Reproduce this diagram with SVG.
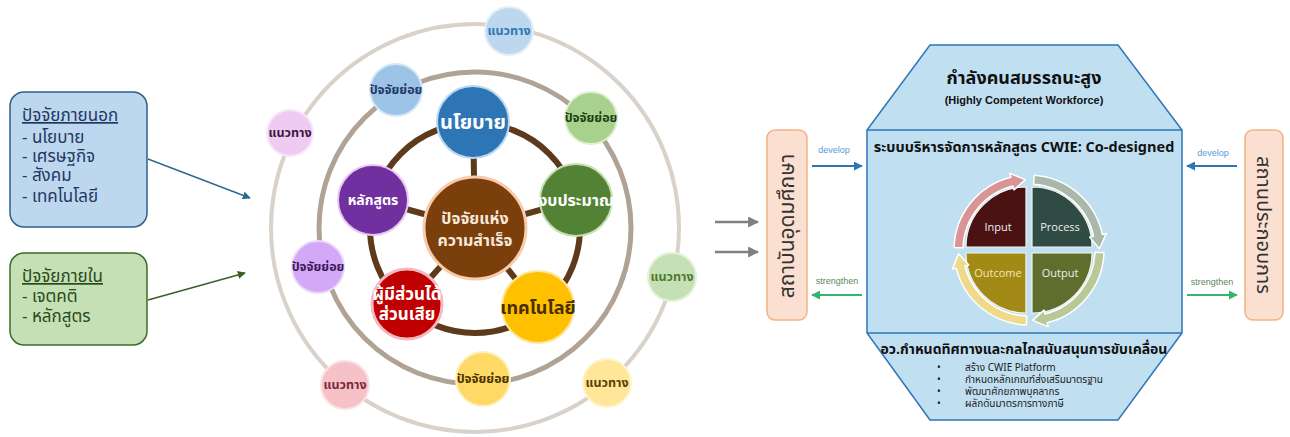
<svg xmlns="http://www.w3.org/2000/svg" width="1290" height="437" viewBox="0 0 1290 437">
<defs>
<style>
text{font-family:"Noto Sans Thai","Noto Sans","Leelawadee UI",Tahoma,sans-serif}
.en{font-family:"Liberation Sans",Arial,sans-serif}
.b{font-weight:bold}
.sm{font-size:12.5px;font-weight:bold;text-anchor:middle}
.mid{text-anchor:middle}
.box{font-size:17px}
.lbl{font-family:"Liberation Sans",Arial,sans-serif;font-size:9px;text-anchor:middle}
.q{font-family:"Open Sans","Liberation Sans",sans-serif;font-size:11px;text-anchor:middle}
.bl{font-size:10px;fill:#222222}
.sp{stroke:#5c3a1b;stroke-width:6}
</style>
<marker id="mBlue" viewBox="0 0 10 10" refX="9" refY="5" markerWidth="8" markerHeight="8" orient="auto" markerUnits="userSpaceOnUse"><path d="M0,0 L10,5 L0,10 z" fill="#2e6a8e"/></marker>
<marker id="mGreenD" viewBox="0 0 10 10" refX="9" refY="5" markerWidth="8" markerHeight="8" orient="auto" markerUnits="userSpaceOnUse"><path d="M0,0 L10,5 L0,10 z" fill="#3b5e26"/></marker>
<marker id="mGrey" viewBox="0 0 10 10" refX="9" refY="5" markerWidth="11" markerHeight="11" orient="auto" markerUnits="userSpaceOnUse"><path d="M0,0 L10,5 L0,10 z" fill="#808080"/></marker>
<marker id="mDev" viewBox="0 0 10 10" refX="9" refY="5" markerWidth="9" markerHeight="9" orient="auto" markerUnits="userSpaceOnUse"><path d="M0,0 L10,5 L0,10 z" fill="#2e75b6"/></marker>
<marker id="mStr" viewBox="0 0 10 10" refX="9" refY="5" markerWidth="9" markerHeight="9" orient="auto" markerUnits="userSpaceOnUse"><path d="M0,0 L10,5 L0,10 z" fill="#33b56a"/></marker>
</defs>
<rect width="1290" height="437" fill="#ffffff"/>

<!-- Left boxes -->
<g id="external">
<rect x="10" y="92" width="137" height="135" rx="14" fill="#bdd7ee" stroke="#2f5f8a" stroke-width="1.5"/>
<text x="22" y="121" class="box" fill="#1f3864" text-decoration="underline">ปัจจัยภายนอก</text>
<text x="22" y="143" class="box" fill="#1f3864">- นโยบาย</text>
<text x="22" y="162" class="box" fill="#1f3864">- เศรษฐกิจ</text>
<text x="22" y="181" class="box" fill="#1f3864">- สังคม</text>
<text x="22" y="202" class="box" fill="#1f3864">- เทคโนโลยี</text>
</g>
<g id="internal">
<rect x="10" y="253" width="137" height="92" rx="14" fill="#c5e0b4" stroke="#3d6b2a" stroke-width="1.5"/>
<text x="22" y="282" class="box" fill="#2a4a1a" text-decoration="underline">ปัจจัยภายใน</text>
<text x="22" y="302" class="box" fill="#2a4a1a">- เจตคติ</text>
<text x="22" y="322" class="box" fill="#2a4a1a">- หลักสูตร</text>
</g>

<!-- Circle diagram -->
<g id="rings" fill="none">
<circle cx="475" cy="228" r="204" stroke="#d8d2ca" stroke-width="4"/>
<circle cx="475" cy="228" r="156" stroke="#b0a396" stroke-width="5"/>
<circle cx="475" cy="228" r="105" stroke="#5c3a1b" stroke-width="6"/>
</g>
<g id="spokes">
<line class="sp" x1="475" y1="228" x2="473" y2="122"/>
<line class="sp" x1="475" y1="228" x2="576" y2="200"/>
<line class="sp" x1="475" y1="228" x2="538" y2="307"/>
<line class="sp" x1="475" y1="228" x2="407" y2="304"/>
<line class="sp" x1="475" y1="228" x2="373" y2="200"/>
</g>

<g id="center">
<circle cx="475" cy="228" r="51" fill="#7b3f0c" stroke="#f8cbad" stroke-width="3"/>
<text x="475" y="224" class="mid b" font-size="16" fill="#f7e9dc">ปัจจัยแห่ง</text>
<text x="475" y="246" class="mid b" font-size="16" fill="#f7e9dc">ความสำเร็จ</text>
</g>
<g id="policy">
<circle cx="473" cy="122" r="36" fill="#2e75b6" stroke="#bdd7ee" stroke-width="2"/>
<text x="473" y="129" class="mid b" font-size="20" fill="#ffffff">นโยบาย</text>
</g>
<g id="budget">
<circle cx="576" cy="200" r="36" fill="#548235" stroke="#c5e0b4" stroke-width="2"/>
<text x="576" y="206" class="mid b" font-size="16" fill="#ffffff">งบประมาณ</text>
</g>
<g id="technology">
<circle cx="538" cy="307" r="36" fill="#ffc000" stroke="#ffe699" stroke-width="2"/>
<text x="538" y="314" class="mid b" font-size="18" fill="#4a2e00">เทคโนโลยี</text>
</g>
<g id="stakeholder">
<circle cx="407" cy="304" r="35" fill="#c00000" stroke="#f4b8c0" stroke-width="3"/>
<text x="407" y="300" class="mid b" font-size="17" fill="#ffffff">ผู้มีส่วนได้</text>
<text x="407" y="320" class="mid b" font-size="17" fill="#ffffff">ส่วนเสีย</text>
</g>
<g id="curriculum">
<circle cx="373" cy="200" r="35" fill="#7030a0" stroke="#e8c8f0" stroke-width="2"/>
<text x="373" y="205" class="mid b" font-size="14" fill="#ffffff">หลักสูตร</text>
</g>

<g id="sub1"><circle cx="396" cy="90" r="26" fill="#9dc3e6" stroke="#d6e8f6" stroke-width="2"/><text x="396" y="94" class="sm" fill="#1f3864">ปัจจัยย่อย</text></g>
<g id="sub2"><circle cx="591" cy="118" r="26" fill="#a9d18e" stroke="#dff0d0" stroke-width="2"/><text x="591" y="122" class="sm" fill="#1e3d14">ปัจจัยย่อย</text></g>
<g id="sub3"><circle cx="318" cy="267" r="26" fill="#d2a8f7" stroke="#ecd8fb" stroke-width="2"/><text x="318" y="271" class="sm" fill="#3c1a5a">ปัจจัยย่อย</text></g>
<g id="sub4"><circle cx="483" cy="379" r="27" fill="#ffd966" stroke="#fff0c0" stroke-width="2"/><text x="483" y="383" class="sm" fill="#4a3300">ปัจจัยย่อย</text></g>

<g id="way1"><circle cx="509" cy="31" r="24" fill="#bdd7ee" stroke="#e2eef8" stroke-width="2"/><text x="509" y="35" class="sm" fill="#2e75b6">แนวทาง</text></g>
<g id="way2"><circle cx="290" cy="133" r="23" fill="#efcbf3" stroke="#f8e6fa" stroke-width="2"/><text x="290" y="137" class="sm" fill="#3a1a40">แนวทาง</text></g>
<g id="way3"><circle cx="672" cy="277" r="24" fill="#c5e0b4" stroke="#e4f0da" stroke-width="2"/><text x="672" y="281" class="sm" fill="#4e7a30">แนวทาง</text></g>
<g id="way4"><circle cx="345" cy="385" r="24" fill="#f7c1c8" stroke="#fbe0e4" stroke-width="2"/><text x="345" y="389" class="sm" fill="#7a2a3a">แนวทาง</text></g>
<g id="way5"><circle cx="607" cy="383" r="24" fill="#ffe699" stroke="#fff4cc" stroke-width="2"/><text x="607" y="387" class="sm" fill="#5a4000">แนวทาง</text></g>

<!-- Right side -->
<g id="institution">
<rect x="767" y="130" width="40" height="190" rx="8" fill="#fbe0d2" stroke="#f4b183" stroke-width="1.5"/>
<text transform="translate(787,226) rotate(-90)" class="mid" font-size="21" dy="7" fill="#333333">สถาบันอุดมศึกษา</text>
</g>
<g id="enterprise">
<rect x="1245" y="130" width="38" height="190" rx="8" fill="#fbe0d2" stroke="#f4b183" stroke-width="1.5"/>
<text transform="translate(1264,225) rotate(90)" class="mid" font-size="20" dy="7" fill="#333333">สถานประกอบการ</text>
</g>

<g id="workforce">
<path d="M930,45 L1118,45 L1182,130 L1182,333 L1118,420 L930,420 L867,333 L867,130 Z" fill="#c0dff1" stroke="#2e75b6" stroke-width="1.5"/>
<line x1="867" y1="130" x2="1182" y2="130" stroke="#2e75b6" stroke-width="1.5"/>
<line x1="867" y1="333" x2="1182" y2="333" stroke="#2e75b6" stroke-width="1.5"/>
<text x="1024" y="84" class="mid b" font-size="18" fill="#111111">กำลังคนสมรรถนะสูง</text>
<text x="1024" y="104" class="en mid b" font-size="11" fill="#111111">(Highly Competent Workforce)</text>
<text x="1024" y="152" class="mid b" font-size="14.5" fill="#111111">ระบบบริหารจัดการหลักสูตร CWIE: Co-designed</text>
<text x="1024" y="354" class="mid b" font-size="14" fill="#111111">อว.กำหนดทิศทางและกลไกสนับสนุนการขับเคลื่อน</text>
<text x="937" y="371" class="bl">•</text><text x="965" y="371" class="bl">สร้าง CWIE Platform</text>
<text x="937" y="383" class="bl">•</text><text x="965" y="383" class="bl">กำหนดหลักเกณฑ์ส่งเสริมมาตรฐาน</text>
<text x="937" y="395" class="bl">•</text><text x="965" y="395" class="bl">พัฒนาศักยภาพบุคลากร</text>
<text x="937" y="407" class="bl">•</text><text x="965" y="407" class="bl">ผลักดันมาตรการทางภาษี</text>
</g>

<g id="cycle">
<g stroke="#f4f4f0" stroke-width="1.2">
<path d="M1026,247 L966,247 A60,60 0 0 1 1026,187 Z" fill="#4a1212"/>
<path d="M1032,247 L1032,187 A60,60 0 0 1 1092,247 Z" fill="#2f4b43"/>
<path d="M1032,253 L1092,253 A60,60 0 0 1 1032,313 Z" fill="#5f6e2d"/>
<path d="M1026,253 L1026,313 A60,60 0 0 1 966,253 Z" fill="#a38a17"/>
</g>
<g stroke="#ffffff" stroke-width="1.5" stroke-linejoin="round">
<path d="M954.05,247.38 A75,75 0 0 1 1010.86,177.23 L1009.89,173.35 L1025.31,179.6 L1014,189.84 L1013.03,185.96 A66,66 0 0 0 963.04,247.7 Z" fill="#d99594"/>
<path d="M1034.23,175.18 A75,75 0 0 1 1102.36,234.41 L1106.27,233.58 L1099.49,248.77 L1089.65,237.11 L1093.56,236.28 A66,66 0 0 0 1033.6,184.16 Z" fill="#a9b8a8"/>
<path d="M1103.95,252.62 A75,75 0 0 1 1047.14,322.77 L1048.11,326.65 L1032.69,320.4 L1044,310.16 L1044.97,314.04 A66,66 0 0 0 1094.96,252.3 Z" fill="#b8c896"/>
<path d="M1026.38,324.95 A75,75 0 0 1 956.23,268.14 L952.35,269.11 L958.6,253.69 L968.84,265 L964.96,265.97 A66,66 0 0 0 1026.7,315.96 Z" fill="#efd98a"/>
</g>
<text x="998" y="231" class="q" fill="#eeeeee">Input</text>
<text x="1060" y="231" class="q" fill="#eeeeee">Process</text>
<text x="998" y="277" class="q" fill="#f3e6b0">Outcome</text>
<text x="1060" y="277" class="q" fill="#eeeeee">Output</text>
</g>

<!-- Connectors -->
<g id="connectors" fill="none">
<line x1="148" y1="159" x2="250" y2="198" stroke="#2e6a8e" stroke-width="1.5" marker-end="url(#mBlue)"/>
<line x1="148" y1="300" x2="245" y2="273" stroke="#3b5e26" stroke-width="1.5" marker-end="url(#mGreenD)"/>
<line x1="715" y1="222" x2="758" y2="222" stroke="#808080" stroke-width="2.5" marker-end="url(#mGrey)"/>
<line x1="715" y1="252" x2="758" y2="252" stroke="#808080" stroke-width="2.5" marker-end="url(#mGrey)"/>
<line x1="812" y1="166" x2="862" y2="166" stroke="#2e75b6" stroke-width="2" marker-end="url(#mDev)"/>
<line x1="862" y1="295" x2="812" y2="295" stroke="#33b56a" stroke-width="2" marker-end="url(#mStr)"/>
<line x1="1237" y1="166" x2="1187" y2="166" stroke="#2e75b6" stroke-width="2" marker-end="url(#mDev)"/>
<line x1="1187" y1="295" x2="1237" y2="295" stroke="#33b56a" stroke-width="2" marker-end="url(#mStr)"/>
<text x="834" y="153" class="lbl" fill="#5b9bd5">develop</text>
<text x="837" y="284" class="lbl" fill="#5a8a5a">strengthen</text>
<text x="1213" y="156" class="lbl" fill="#5b9bd5">develop</text>
<text x="1212" y="285" class="lbl" fill="#5a8a5a">strengthen</text>
</g>
</svg>
